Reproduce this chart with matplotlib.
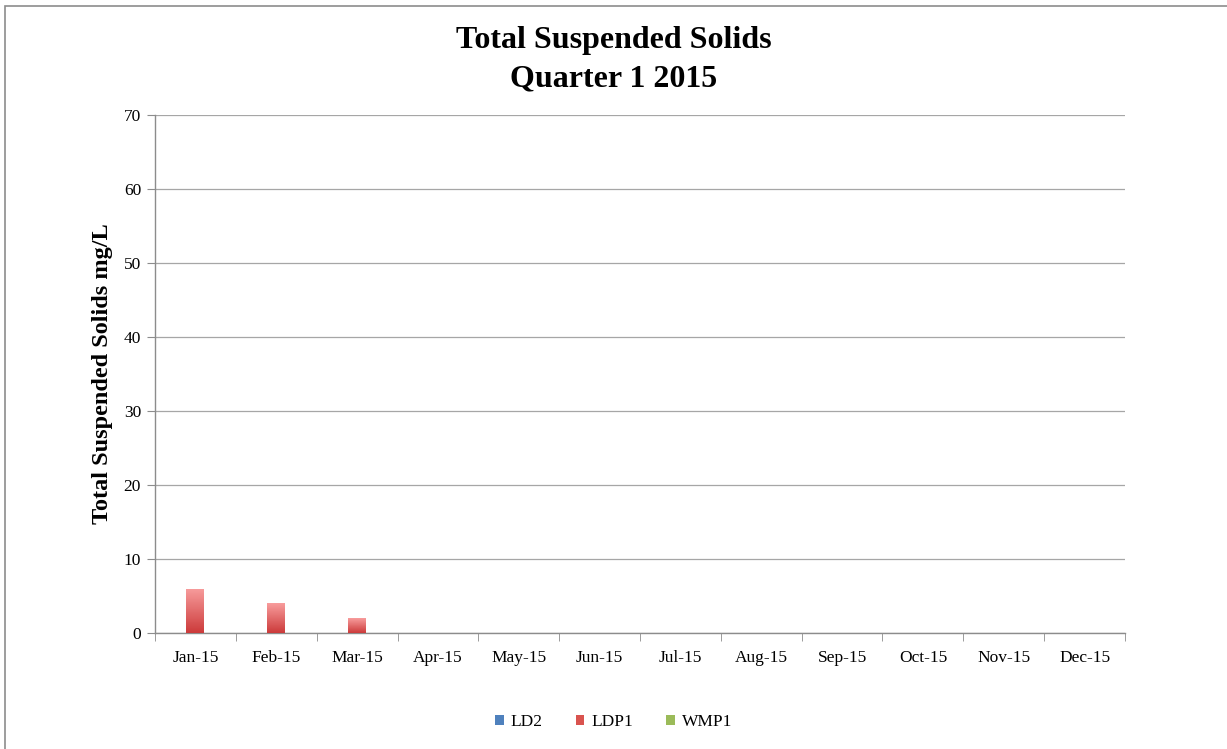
import numpy as np
import matplotlib
matplotlib.use("Agg")
import matplotlib.pyplot as plt
from matplotlib.colors import LinearSegmentedColormap
from matplotlib.patches import Rectangle

# --- dados ---
months = ["Jan-15", "Feb-15", "Mar-15", "Apr-15", "May-15", "Jun-15",
          "Jul-15", "Aug-15", "Sep-15", "Oct-15", "Nov-15", "Dec-15"]
ld2 = [0, 0, 0] + [np.nan] * 9
ldp1 = [6, 4, 2] + [np.nan] * 9
wmp1 = [0, 0, 0] + [np.nan] * 9

series = [
    ("LD2", ld2, "#4f81bd", "#a7c3e8", "#3a6aa8"),
    ("LDP1", ldp1, "#d9534f", "#f89c9c", "#cc3b3b"),
    ("WMP1", wmp1, "#9bbb59", "#cde3a4", "#87a84a"),
]

plt.rcParams['font.family'] = ['Liberation Serif', 'DejaVu Serif']

fig = plt.figure(figsize=(12.27, 7.49), dpi=100)
ax = fig.add_axes([155 / 1227, 1 - 633 / 749, 970 / 1227, 518 / 749])

# moldura externa do grafico (so esquerda e topo aparecem)
fig.patches.append(Rectangle((5 / 1227, -0.1), 1.2, 1 - 5.5 / 749 + 0.1,
                             transform=fig.transFigure, fill=False,
                             edgecolor="#8c8c8c", linewidth=1.2))

x = np.arange(len(months))
w = 1 / 4.5
offsets = [-w, 0, w]

for (name, vals, col, top, bot), off in zip(series, offsets):
    vals = np.array(vals, dtype=float)
    bars = ax.bar(x + off, np.nan_to_num(vals), width=w, color="none",
                  edgecolor="none", label=name)
    cmap = LinearSegmentedColormap.from_list(name, [bot, top])
    grad = np.linspace(1, 0, 64).reshape(-1, 1)
    for b, v in zip(bars, vals):
        if np.isnan(v) or v <= 0:
            continue
        bx = b.get_x()
        im = ax.imshow(grad, extent=[bx, bx + b.get_width(), 0, v],
                       aspect="auto", cmap=cmap, origin="upper", zorder=3)
        im.set_clip_path(b)

ax.set_xlim(-0.5, len(months) - 0.5)
ax.set_ylim(0, 70)
ax.set_yticks(range(0, 71, 10))
ax.set_xticks(x)
ax.set_xticklabels(months)
ax.set_xticks(np.arange(-0.5, len(months)), minor=True)
ax.tick_params(axis="x", which="major", length=0, pad=12, labelsize=12.5)
ax.tick_params(axis="x", which="minor", length=6, color="#8c8c8c", direction="out")
ax.tick_params(axis="y", length=6, color="#8c8c8c", labelsize=12.5, pad=4)

ax.grid(axis="y", color="#a6a6a6", linewidth=0.9)
ax.set_axisbelow(True)
for s in ["top", "right"]:
    ax.spines[s].set_visible(False)
for s in ["left", "bottom"]:
    ax.spines[s].set_color("#8c8c8c")
    ax.spines[s].set_linewidth(1.0)

ax.set_ylabel("Total Suspended Solids mg/L", fontsize=17.5, fontweight="bold", labelpad=8)
fig.text(0.5, 1 - 26 / 749, "Total Suspended Solids\nQuarter 1 2015", ha="center",
         va="top", fontsize=23, fontweight="bold", linespacing=1.42)

handles = [Rectangle((0, 0), 1, 1, facecolor=c[2]) for c in series]
fig.legend(handles, [c[0] for c in series], loc="center", bbox_to_anchor=(0.5, 1 - 722 / 749),
           ncol=3, frameon=False, fontsize=12.5, handlelength=0.5, handleheight=0.5,
           columnspacing=1.9, handletextpad=0.4)

fig.savefig("out.png", dpi=100)
